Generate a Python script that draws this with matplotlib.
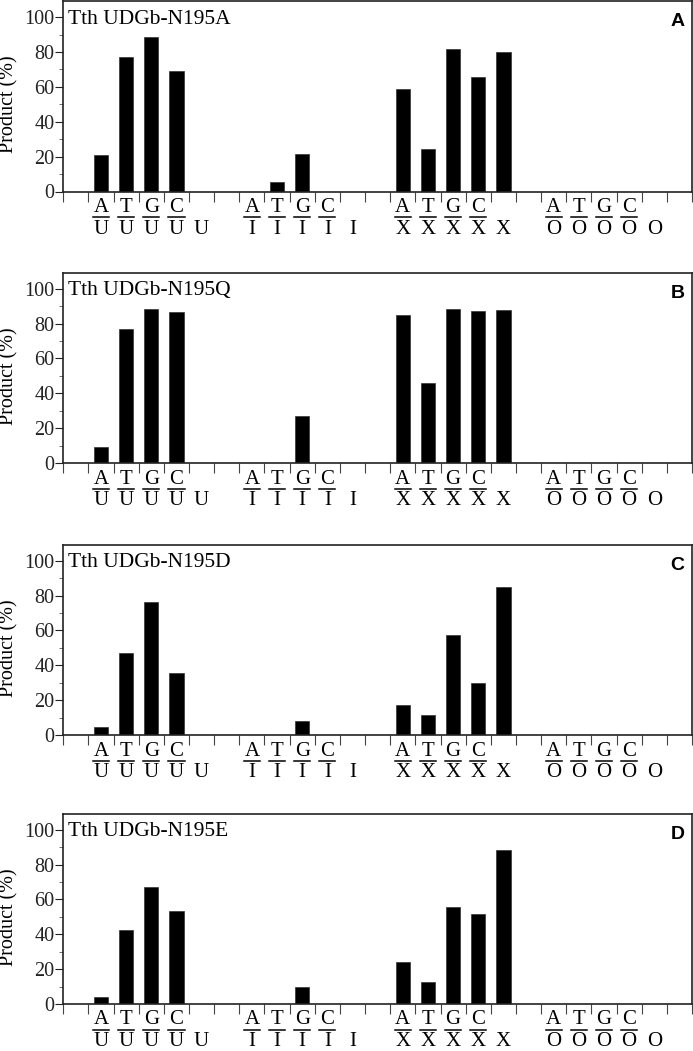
import matplotlib
matplotlib.use("Agg")
import matplotlib.pyplot as plt
from matplotlib.ticker import MultipleLocator
from matplotlib.transforms import ScaledTranslation

plt.rcParams["font.family"] = "Liberation Serif"

# pair labels: top strand base over damaged base
top_bases = ["A", "T", "G", "C", ""]
lesions = ["U", "I", "X", "O"]

titles = ["Tth UDGb-N195A", "Tth UDGb-N195Q", "Tth UDGb-N195D", "Tth UDGb-N195E"]
panel_letters = ["A", "B", "C", "D"]

# product (%) for A/L, T/L, G/L, C/L, single-strand L ; L = U, I, X, O
n195a = [20.7, 77.0, 88.5, 69.2, 0,
         0, 5.7, 21.8, 0, 0,
         58.6, 24.1, 81.6, 65.7, 79.9,
         0, 0, 0, 0, 0]
n195q = [9.2, 76.7, 88.6, 86.5, 0,
         0, 0, 27.0, 0, 0,
         85.0, 45.7, 88.2, 87.1, 87.5,
         0, 0, 0, 0, 0]
n195d = [4.4, 47.0, 76.3, 35.8, 0,
         0, 0, 8.3, 0, 0,
         17.0, 11.4, 57.6, 29.9, 85.2,
         0, 0, 0, 0, 0]
n195e = [3.8, 42.6, 67.2, 53.4, 0,
         0, 0, 9.5, 0, 0,
         24.2, 12.8, 55.7, 51.9, 88.4,
         0, 0, 0, 0, 0]
panels = [n195a, n195q, n195d, n195e]

W, H = 693, 1051
fig = plt.figure(figsize=(W / 100, H / 100), dpi=100)

ax_left = 63.3 / W
ax_width = 628.7 / W
ax_height = 190.5 / H
zero_lines = [191.5, 463, 735, 1004]  # pixel rows of y=0 from top
ymax = 109.3

n_slots = 25
slots = []
for g in range(4):
    for k in range(5):
        slots.append(1 + g * 6 + k)

px = 1 / 100  # inch per pixel

for i, vals in enumerate(panels):
    bottom = (H - zero_lines[i]) / H
    ax = fig.add_axes([ax_left, bottom, ax_width, ax_height])
    xs = [s + 0.5 for s in slots]
    ax.bar(xs, vals, width=0.57, color="black", edgecolor="#333333", linewidth=0.5)
    ax.set_xlim(0, n_slots)
    ax.set_ylim(0, ymax)

    for sp in ax.spines.values():
        sp.set_linewidth(1.2)
        sp.set_color("#222222")

    ax.yaxis.set_major_locator(MultipleLocator(20))
    ax.yaxis.set_minor_locator(MultipleLocator(10))
    ax.tick_params(axis="y", which="major", direction="out", length=5.5, width=0.8,
                   labelsize=14.5, pad=1, colors="#222222")
    ax.tick_params(axis="y", which="minor", direction="out", length=3, width=0.6,
                   colors="#555555")
    ax.set_xticks(range(0, n_slots + 1))
    ax.set_xticklabels([])
    ax.tick_params(axis="x", which="major", direction="out", length=7.5, width=0.8,
                   colors="#444444")

    # y label centred on the 0-100 range
    label_y = (H - zero_lines[i] + 0.5 * 100 / ymax * 190.5) / H
    fig.text(9 / W, label_y, "Product (%)", rotation=90, ha="center", va="center",
             fontsize=14.5)

    ax.text(0.008, 0.955, titles[i], transform=ax.transAxes, fontsize=15.5,
            ha="left", va="top")
    ax.text(0.977, 0.89, panel_letters[i], transform=ax.transAxes, fontsize=14,
            family="Liberation Sans", fontweight="bold", ha="center", va="center")

    # base pair labels under the axis
    base_tr = ax.get_xaxis_transform()
    for j, s in enumerate(slots):
        top = top_bases[j % 5]
        low = lesions[j // 5]
        xc = s + 0.5
        if top:
            ax.text(xc, 0, top, transform=base_tr + ScaledTranslation(0, -20.5 * px, fig.dpi_scale_trans),
                    ha="center", va="baseline", fontsize=15)
            ax.plot([xc - 0.32, xc + 0.32], [0, 0], color="black", lw=1.1, clip_on=False,
                    transform=base_tr + ScaledTranslation(0, -25.5 * px, fig.dpi_scale_trans))
        ax.text(xc, 0, low, transform=base_tr + ScaledTranslation(0, -42 * px, fig.dpi_scale_trans),
                ha="center", va="baseline", fontsize=15)

fig.savefig("out.png", dpi=100)
